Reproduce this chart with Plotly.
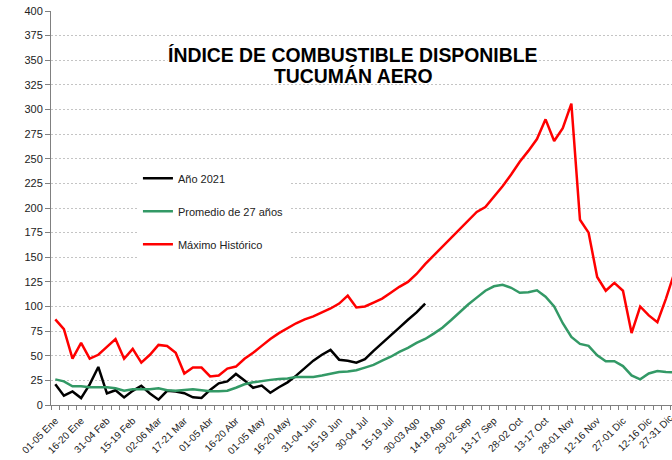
import plotly.graph_objects as go

# ---- data (5-day periods, 73 per year) ----
tick_labels = ["01-05 Ene", "16-20 Ene", "31-04 Feb", "15-19 Feb", "02-06 Mar", "17-21 Mar",
               "01-05 Abr", "16-20 Abr", "01-05 May", "16-20 May", "31-04 Jun", "15-19 Jun",
               "30-04 Jul", "15-19 Jul", "30-03 Ago", "14-18 Ago", "29-02 Sep", "13-17 Sep",
               "28-02 Oct", "13-17 Oct", "28-01 Nov", "12-16 Nov", "27-01 Dic", "12-16 Dic",
               "27-31 Dic"]

anio_2021 = [21, 9.5, 13.8, 7, 21, 38.6, 11.7, 15, 7.7, 14.4, 19.5, 11.7, 5.4, 14.4, 13.8,
             12, 7.8, 7.1, 15.3, 22, 24, 31.5, 25, 17.5, 19.7, 12.5, 18, 23, 29.8, 37,
             45, 51, 56, 46, 45, 43, 46.5, 55, 62.5, 70, 78.5, 86.5, 94, 103]

promedio_27 = [26, 24, 19, 19, 18, 18, 18, 17, 14.5, 16, 16, 16, 17, 15, 14.5,
               15, 16, 15, 14, 14, 14.5, 17.5, 21, 23, 24.5, 25.5, 26.5, 27, 28.5, 28.5,
               28.5, 30, 32, 33.5, 34, 35.3, 38, 40.7, 45, 49, 54, 58, 63, 67, 72.5,
               78.5, 86, 94.5, 102, 109, 116, 120.5, 122, 119, 114, 114.5, 116.5, 110, 100, 83,
               69, 62, 60, 50.5, 44.5, 44.5, 39.5, 30, 26, 32, 34.5, 33.5, 33]

maximo_hist = [87, 77, 47, 63, 47, 51, 59, 67, 47, 57, 43, 51, 61, 60, 53,
               32, 38, 38, 29, 30, 37, 39, 47, 53, 60, 67, 73, 78, 83, 87,
               90, 94, 98, 103, 111, 99, 100, 104, 108, 114, 120, 125, 133, 143, 152,
               161, 170, 179, 188, 196, 201, 211, 222, 234, 247, 258, 270, 290, 268, 281,
               306, 188, 175, 130, 116, 124, 116, 73, 100, 91, 84, 108, 135]

n_periods = len(maximo_hist)
x_all = list(range(n_periods))
tick_step = 3
tick_pos = list(range(0, n_periods, tick_step))

FONT = "Arial, Liberation Sans, sans-serif"

fig = go.Figure()
fig.add_trace(go.Scatter(x=x_all[:len(anio_2021)], y=anio_2021, mode="lines",
                         name="Año 2021", legendgroup="a",
                         line=dict(color="#000000", width=2.5)))
fig.add_trace(go.Scatter(x=x_all, y=promedio_27, mode="lines",
                         name="Promedio de 27 años", legendgroup="b",
                         line=dict(color="#339966", width=2.5)))
fig.add_trace(go.Scatter(x=x_all, y=maximo_hist, mode="lines",
                         name="Máximo Histórico", legendgroup="c",
                         line=dict(color="#FF0000", width=2.5)))

fig.update_layout(
    width=672, height=460,
    margin=dict(l=51, r=0, t=11, b=55, autoexpand=False),
    paper_bgcolor="white", plot_bgcolor="white",
    font=dict(family=FONT, size=11, color="#222"),
    showlegend=True,
    legend=dict(x=0.14, y=0.612, xanchor="left", yanchor="top",
                bgcolor="white", font=dict(size=11, color="#222"),
                traceorder="grouped", tracegroupgap=14,
                borderwidth=0),
    xaxis=dict(
        range=[-0.5, 71.7], showgrid=False, zeroline=False,
        tickmode="array", tickvals=tick_pos[:-1], ticktext=tick_labels[:-1],
        tickangle=-45, tickfont=dict(size=10, color="#222"),
        ticks="outside", ticklen=5, tickcolor="rgba(0,0,0,0)",
        showline=True, linecolor="#808080", linewidth=1,
        minor=dict(tickmode="linear", tick0=-0.5, dtick=1, ticks="outside",
                   ticklen=4, tickcolor="#808080", showgrid=False),
        automargin=False,
    ),
    yaxis=dict(
        range=[0, 400], dtick=25, tick0=0,
        showgrid=True, gridcolor="#c4c4c4", griddash="2px,2px", gridwidth=1,
        zeroline=False, showline=True, linecolor="#808080", linewidth=1,
        ticks="outside", ticklen=5, tickcolor="#808080",
        tickfont=dict(size=11, color="#222"),
        automargin=False,
    ),
)

# last tick label (partly outside the visible plot)
fig.add_annotation(text=tick_labels[-1], xref="paper", yref="paper",
                   x=(678 - 51) / 621, y=0, xanchor="right", yanchor="top",
                   yshift=-5, textangle=-45, showarrow=False,
                   font=dict(size=10, color="#222", family=FONT))

# title
fig.add_annotation(text="<b>ÍNDICE DE COMBUSTIBLE DISPONIBLE</b>", xref="paper", yref="paper",
                   x=(353 - 51) / 621, y=(405 - 55) / 394, xanchor="center", yanchor="middle",
                   showarrow=False, bgcolor="white", borderpad=0,
                   font=dict(size=19.4, color="#000", family=FONT))
fig.add_annotation(text="<b>TUCUMÁN AERO</b>", xref="paper", yref="paper",
                   x=(353 - 51) / 621, y=(405 - 76) / 394, xanchor="center", yanchor="middle",
                   showarrow=False, borderpad=0,
                   font=dict(size=19.4, color="#000", family=FONT))

fig.write_html("out.html", config={"displayModeBar": False},
               post_script="document.body.style.margin='0';document.body.style.overflow='hidden';")
